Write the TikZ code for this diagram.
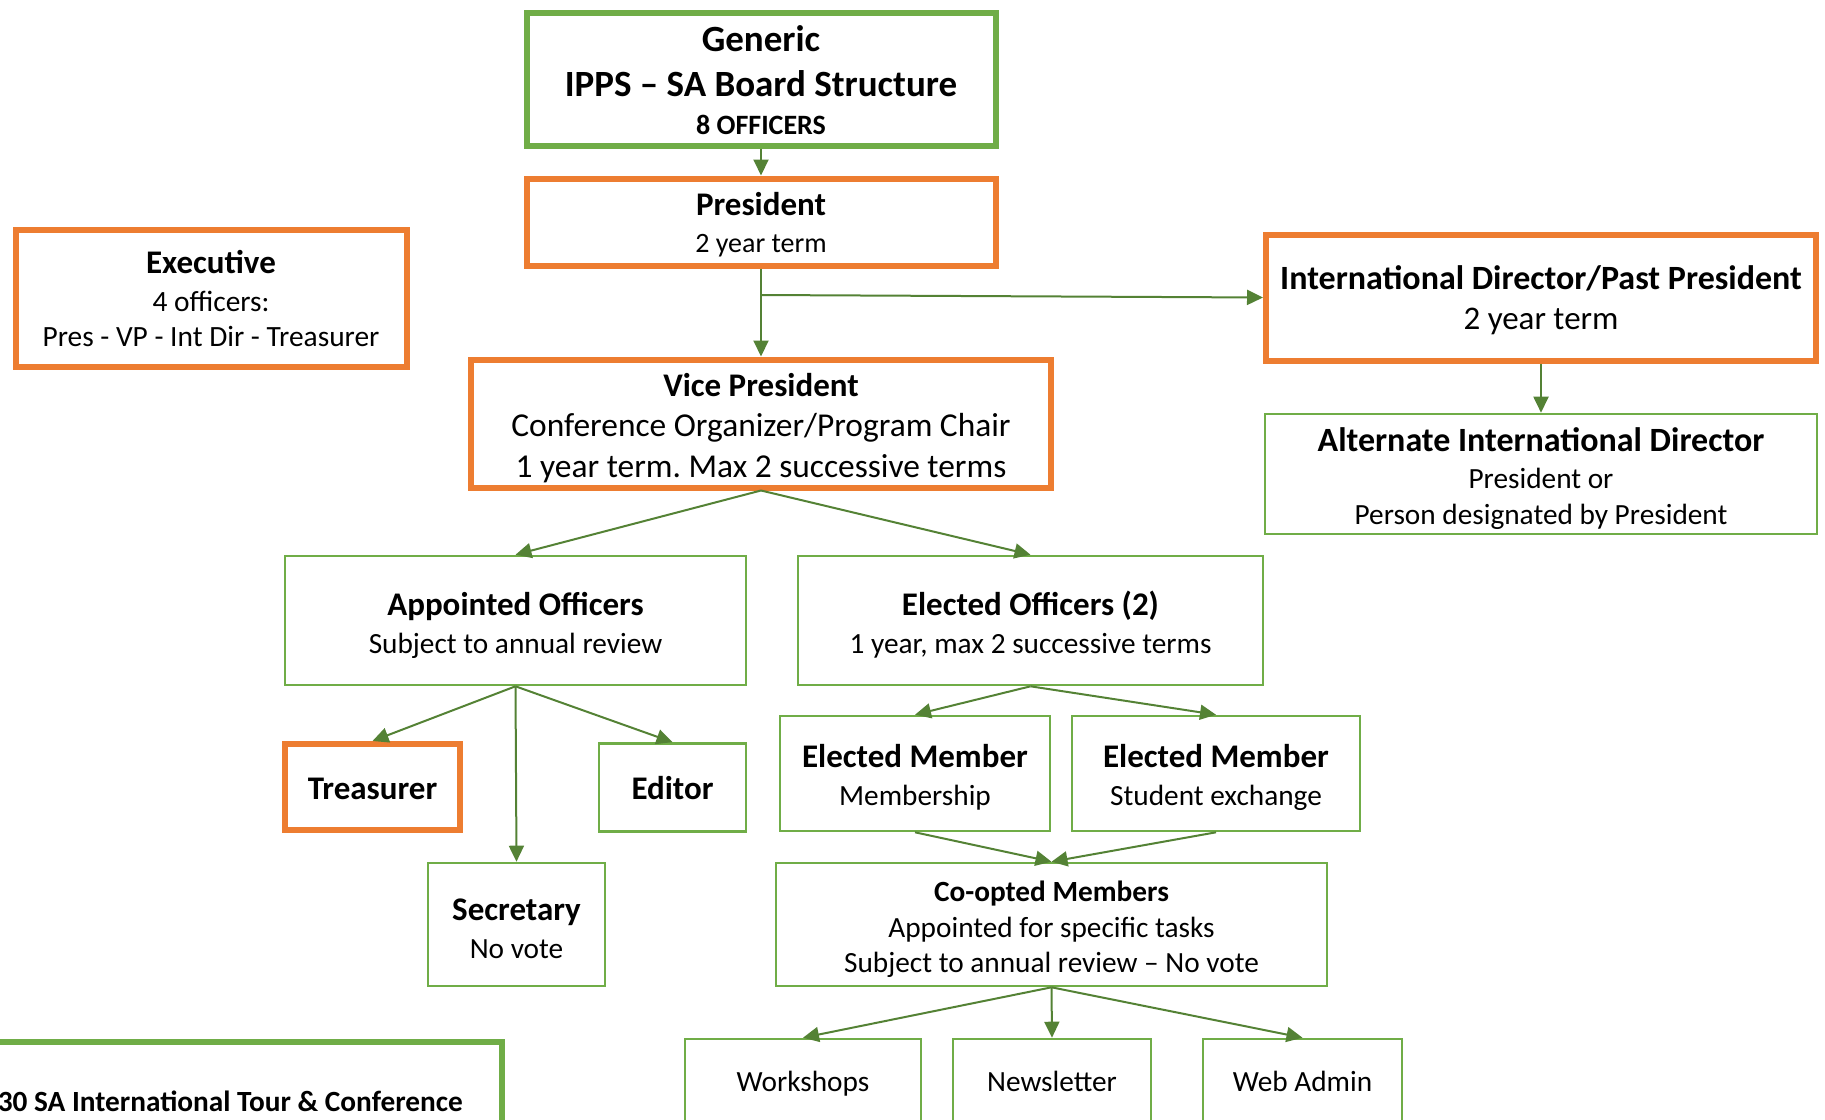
\documentclass[tikz,border=0pt]{standalone}
\usepackage{fontspec}
\setmainfont{Carlito}
\frenchspacing
\usetikzlibrary{arrows.meta}
\definecolor{boxgreen}{HTML}{70AD47}
\definecolor{boxorange}{HTML}{ED7D31}
\definecolor{arrgreen}{HTML}{548235}
\newcommand{\fs}[2]{\fontsize{#1}{#2}\selectfont}
\begin{document}
\begin{tikzpicture}[x=1pt,y=-1pt,
  base/.style={rectangle,draw,fill=white,inner sep=0pt},
  gbox/.style={base,draw=boxgreen,line width=2.6pt},
  gthick/.style={base,draw=boxgreen,line width=6pt},
  obox/.style={base,draw=boxorange,line width=6pt},
  txt/.style={align=center,inner sep=0pt,text=black},
  conn/.style={draw=arrgreen,line width=2pt,-{Triangle[length=16pt,width=15pt]}},
  ]
\useasboundingbox (0,0) rectangle (1825,1119);
\clip (0,0) rectangle (1825,1119);

% ---------- boxes ----------
\node[gthick,minimum width=469,minimum height=133] (gen) at (761,79) {};
\node[obox,minimum width=469,minimum height=87] (pres) at (761,222) {};
\node[obox,minimum width=391,minimum height=137] (exec) at (211,298) {};
\node[obox,minimum width=550,minimum height=126] (intd) at (1541,297.5) {};
\node[gbox,minimum width=552,minimum height=120] (alt) at (1541,474) {};
\node[obox,minimum width=580,minimum height=128] (vp) at (761,423.5) {};
\node[gbox,minimum width=461,minimum height=129] (app) at (515.5,620.5) {};
\node[gbox,minimum width=465,minimum height=129] (elec) at (1030.5,620.5) {};
\node[obox,minimum width=175,minimum height=86] (treas) at (372.5,787) {};
\node[gbox,minimum width=147,minimum height=88] (edit) at (672.5,787.5) {};
\node[gbox,minimum width=270,minimum height=115] (em1) at (915,773.5) {};
\node[gbox,minimum width=288,minimum height=115] (em2) at (1216,773.5) {};
\node[gbox,minimum width=177,minimum height=123] (sec) at (516.5,924.5) {};
\node[gbox,minimum width=551,minimum height=123] (coop) at (1051.5,924.5) {};
\node[gbox,minimum width=236,minimum height=84] (work) at (803,1081) {};
\node[gbox,minimum width=198,minimum height=84] (news) at (1052,1081) {};
\node[gbox,minimum width=199,minimum height=84] (web) at (1302.5,1081) {};
\node[gthick,minimum width=540,minimum height=118,anchor=east] (tour) at (505,1101) {};

% ---------- texts ----------
\node[txt,font=\fs{37}{45}] (genT) at (761,80)
  {\bfseries Generic\\\bfseries IPPS – SA Board Structure\\[-7pt]\fs{28}{34}\bfseries 8 OFFICERS};
\node[txt,font=\fs{28}{37}] (presT) at (761,225)
  {\fs{33}{38}\bfseries President\\2 year term};
\node[txt,font=\fs{29.4}{38}] (execT) at (211,298.5)
  {\fs{33}{38}\bfseries Executive\\4 officers:\\[-3pt]Pres - VP - Int Dir - Treasurer};
\node[txt,font=\fs{33}{40}] (intdT) at (1541,300.5)
  {\fs{34}{40}\bfseries International Director/Past President\\2 year term};
\node[txt,font=\fs{29.3}{37}] (altT) at (1541,479)
  {\fs{34}{38}\bfseries Alternate International Director\\President or\\[-1pt]Person designated by President};
\node[txt,font=\fs{33.4}{40}] (vpT) at (761,428)
  {\fs{33}{40}\bfseries Vice President\\Conference Organizer/Program Chair\\[1pt]1 year term. Max 2 successive terms};
\node[txt,font=\fs{29.3}{38}] (appT) at (515.5,625.5)
  {\fs{33}{38}\bfseries Appointed Officers\\Subject to annual review};
\node[txt,font=\fs{29.3}{38}] (elecT) at (1030.5,625)
  {\fs{33}{38}\bfseries Elected Officers (2)\\1 year, max 2 successive terms};
\node[txt,font=\fs{33}{38}\bfseries,anchor=base] (treasT) at (372.5,799)
  {Treasurer};
\node[txt,font=\fs{33}{38}\bfseries,anchor=base] (editT) at (672.5,799)
  {Editor};
\node[txt,font=\fs{29.3}{38}] (em1T) at (915,777.5)
  {\fs{33}{38}\bfseries Elected Member\\Membership};
\node[txt,font=\fs{29.3}{38}] (em2T) at (1216,777.5)
  {\fs{33}{38}\bfseries Elected Member\\Student exchange};
\node[txt,font=\fs{29.3}{38}] (secT) at (516.5,928.5)
  {\fs{33}{38}\bfseries Secretary\\No vote};
\node[txt,font=\fs{29.3}{36}] (coopT) at (1051.5,929)
  {\fs{29.3}{36}\bfseries Co-opted Members\\Appointed for specific tasks\\[-1pt]Subject to annual review – No vote};
\node[txt,font=\fs{29.3}{34},anchor=base] (workT) at (803,1091) {Workshops};
\node[txt,font=\fs{29.3}{34},anchor=base] (newsT) at (1052,1091) {Newsletter};
\node[txt,font=\fs{29.3}{34},anchor=base] (webT) at (1302.5,1091) {Web Admin};
\node[txt,anchor=base east,font=\fs{29.3}{34}\bfseries] (tourT) at (463,1111)
  {30 SA International Tour \& Conference};

% ---------- connectors ----------
\coordinate (j) at (761,295);
\draw[conn] (gen.south) -- (pres.north);
\draw[conn] (pres.south) -- (vp.north);
\draw[conn] (j) -- (intd.west);
\draw[conn] (intd.south) -- (alt.north);
\draw[conn] (vp.south) -- (app.north);
\draw[conn] (vp.south) -- (elec.north);
\draw[conn] (app.south) -- (treas.north);
\draw[conn] (app.south) -- (edit.north);
\draw[conn] (app.south) -- (sec.north);
\draw[conn] (elec.south) -- (em1.north);
\draw[conn] (elec.south) -- (em2.north);
\draw[conn] (em1.south) -- (coop.north);
\draw[conn] (em2.south) -- (coop.north);
\draw[conn] (coop.south) -- (work.north);
\draw[conn] (coop.south) -- (news.north);
\draw[conn] (coop.south) -- (web.north);
\end{tikzpicture}
\end{document}
